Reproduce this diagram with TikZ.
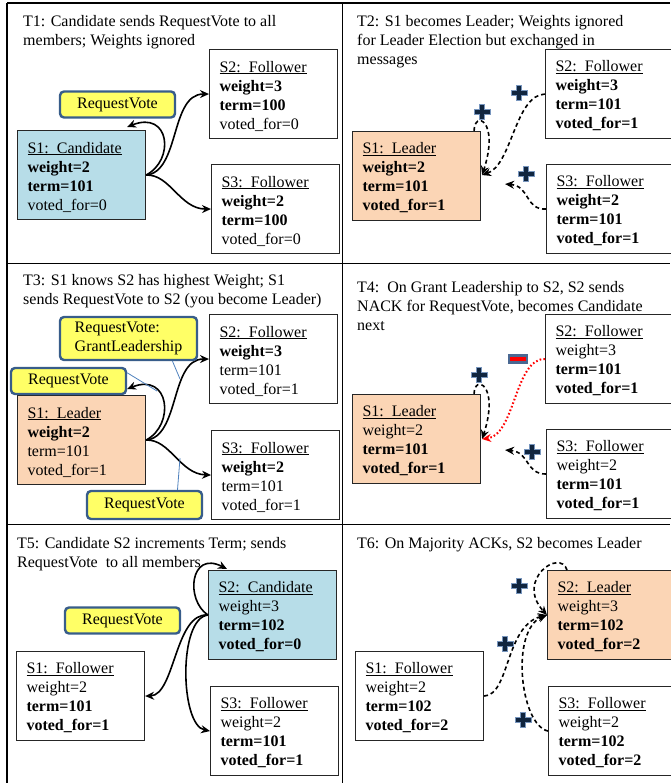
\documentclass[tikz,border=0pt]{standalone}
\usepackage{fontspec}
\setmainfont{Liberation Serif}
\usetikzlibrary{arrows.meta,calc}

\definecolor{candfill}{RGB}{183,221,232}
\definecolor{leadfill}{RGB}{251,213,181}
\definecolor{msgfill}{RGB}{255,255,102}
\definecolor{msgedge}{RGB}{56,93,138}
\definecolor{pointer}{RGB}{79,129,189}
\definecolor{plusfill}{RGB}{16,37,63}
\definecolor{plusedge}{RGB}{120,150,190}
\definecolor{minusedge}{RGB}{74,104,146}
\definecolor{nackred}{RGB}{255,0,0}

% first line of a server box: underlined role, with a strut that sets the text a little lower
\newcommand{\srvhead}[1]{\rule{0pt}{15pt}\underline{#1}}

\tikzset{
  server/.style={draw=black!85, line width=1.1pt, anchor=north west,
    minimum width=128pt, minimum height=89pt, text width=108pt,
    inner xsep=10pt, inner ysep=0pt, align=left,
    font=\fontsize{16}{19}\selectfont},
  title/.style={anchor=north west, inner sep=0pt, align=left,
    font=\fontsize{16}{19}\selectfont},
  msg/.style={draw=msgedge, fill=msgfill, line width=2.4pt, rounded corners=4pt,
    minimum width=115pt, minimum height=26pt, inner sep=0pt,
    font=\fontsize{16}{19}\selectfont},
  sendarrow/.style={-{Stealth[length=9pt,width=8pt]}, line width=1.6pt},
  ackarrow/.style={-{Stealth[length=9pt,width=8pt]}, line width=1.6pt,
    dash pattern=on 4pt off 3pt},
  nackarrow/.style={-{Stealth[length=9pt,width=8pt]}, nackred, line width=2pt,
    dash pattern=on 1.6pt off 2.2pt},
  gridline/.style={line width=1.5pt},
  callout/.style={pointer, line width=0.8pt},
  plusmark/.pic={
    \filldraw[fill=plusfill, draw=plusedge, line width=0.8pt]
      (-8,-2.6) -- (-2.6,-2.6) -- (-2.6,-7.5) -- (2.6,-7.5) -- (2.6,-2.6)
      -- (8,-2.6) -- (8,2.6) -- (2.6,2.6) -- (2.6,7.5) -- (-2.6,7.5)
      -- (-2.6,2.6) -- (-8,2.6) -- cycle;
  },
  minusmark/.pic={
    \filldraw[fill=nackred, draw=minusedge, line width=2.6pt]
      (-9,-3.5) rectangle (9,3.5);
  }
}

\begin{document}
\begin{tikzpicture}[x=1pt, y=-1pt]
\useasboundingbox (0,0) rectangle (670,783);

% table rules
\draw[gridline] (7,3) -- (670,3);
\draw[gridline] (7,3) -- (7,783);
\draw[gridline] (342.5,3) -- (342.5,783);
\draw[gridline] (7,263.5) -- (670,263.5);
\draw[gridline] (7,524.5) -- (670,524.5);

% ---------------- T1 ----------------
\node[title] (t1title) at (23,15) {T1: Candidate sends RequestVote to all\\members; Weights ignored};
\node[server, fill=candfill] (t1s1) at (17,130) {\srvhead{S1: Candidate}\\\textbf{weight=2}\\\textbf{term=101}\\voted\_for=0};
\node[server] (t1s2) at (209,49) {\srvhead{S2: Follower}\\\textbf{weight=3}\\\textbf{term=100}\\voted\_for=0};
\node[server] (t1s3) at (211,164) {\srvhead{S3: Follower}\\\textbf{weight=2}\\\textbf{term=100}\\voted\_for=0};
\node[msg] (t1rv) at (117.5,104.5) {RequestVote};
\coordinate (t1loop) at ($(t1s1.north east)+(-19,-3)$);
\draw[sendarrow] (t1s1.east) .. controls (175,160) and (170,110) .. (t1loop);
\draw[sendarrow] (t1s1.east) .. controls (180,172) and (170,94) .. (t1s2.west);
\draw[sendarrow] (t1s1.east) .. controls (170,174) and (180,209) .. (t1s3.west);

% ---------------- T2 ----------------
\node[title] (t2title) at (357,15) {T2: S1 becomes Leader; Weights ignored\\for Leader Election but exchanged in\\messages};
\node[server, fill=leadfill] (t2s1) at (352,131) {\srvhead{S1: Leader}\\\textbf{weight=2}\\\textbf{term=101}\\\textbf{voted\_for=1}};
\node[server] (t2s2) at (545,49) {\srvhead{S2: Follower}\\\textbf{weight=3}\\\textbf{term=101}\\\textbf{voted\_for=1}};
\node[server] (t2s3) at (546,164) {\srvhead{S3: Follower}\\\textbf{weight=2}\\\textbf{term=101}\\\textbf{voted\_for=1}};
\coordinate (t2in) at ($(t2s1.east)+(1,-1)$);
\coordinate (t2top) at ($(t2s1.north east)+(-7,0)$);
\coordinate (t2near) at ($(t2s1.east)+(24,8)$);
\draw[ackarrow] (t2top) .. controls (474,110) and (500,120) .. (t2in);
\draw[ackarrow] (t2s2.west) .. controls (515,95) and (512,165) .. (t2in);
\draw[ackarrow] (t2s3.west) .. controls (525,210) and (530,186) .. (t2near);
\pic at (482,112) {plusmark};
\pic at (519,93) {plusmark};
\pic at (526,174) {plusmark};

% ---------------- T3 ----------------
\node[title] (t3title) at (23,274) {T3: S1 knows S2 has highest Weight; S1\\sends RequestVote to S2 (you become Leader)};
\node[server, fill=leadfill] (t3s1) at (17,395) {\srvhead{S1: Leader}\\\textbf{weight=2}\\term=101\\voted\_for=1};
\node[server] (t3s2) at (209,314) {\srvhead{S2: Follower}\\\textbf{weight=3}\\term=101\\voted\_for=1};
\node[server] (t3s3) at (211,430) {\srvhead{S3: Follower}\\\textbf{weight=2}\\term=101\\voted\_for=1};
\coordinate (t3loop) at ($(t3s1.north east)+(-19,-6)$);
\draw[sendarrow] (t3s1.east) .. controls (175,425) and (170,372) .. (t3loop);
\draw[sendarrow] (t3s1.east) .. controls (180,437) and (170,359) .. (t3s2.west);
\draw[sendarrow] (t3s1.east) .. controls (170,439) and (180,474) .. (t3s3.west);
\node[msg, minimum width=137pt, minimum height=43pt, align=left] (t3grant) at (128.5,338.5) {RequestVote:\\GrantLeadership};
\node[msg] (t3rv1) at (68.5,381) {RequestVote};
\node[msg, minimum height=28pt] (t3rv2) at (144.5,505) {RequestVote};
\coordinate (t3p1) at (180,379);
\coordinate (t3p2) at (157,391);
\coordinate (t3p3) at (180,458);
\draw[callout] ($(t3grant.south)+(44,0)$) -- (t3p1);
\draw[callout] ($(t3rv1.north east)+(0,6)$) -- (t3p2);
\draw[callout] ($(t3rv2.north)+(33,0)$) -- (t3p3);

% ---------------- T4 ----------------
\node[title] (t4title) at (357,281) {T4:\ \ On Grant Leadership to S2, S2 sends\\NACK for RequestVote, becomes Candidate\\next};
\node[server, fill=leadfill] (t4s1) at (352,394) {\srvhead{S1: Leader}\\weight=2\\\textbf{term=101}\\\textbf{voted\_for=1}};
\node[server] (t4s2) at (545,314) {\srvhead{S2: Follower}\\weight=3\\\textbf{term=101}\\\textbf{voted\_for=1}};
\node[server] (t4s3) at (546,429) {\srvhead{S3: Follower}\\weight=2\\\textbf{term=101}\\\textbf{voted\_for=1}};
\coordinate (t4in) at ($(t4s1.east)+(1,0)$);
\coordinate (t4top) at ($(t4s1.north east)+(-7,0)$);
\coordinate (t4near) at ($(t4s1.east)+(24,11)$);
\draw[ackarrow] (t4top) .. controls (474,374) and (500,384) .. (t4in);
\draw[nackarrow] (t4s2.west) .. controls (515,358) and (515,435) .. (t4in);
\draw[ackarrow] (t4s3.west) .. controls (525,474) and (530,452) .. (t4near);
\pic at (518,359) {minusmark};
\pic at (479,375) {plusmark};
\pic at (532,452) {plusmark};

% ---------------- T5 ----------------
\node[title] (t5title) at (17,537) {T5: Candidate S2 increments Term; sends\\RequestVote\ \ to all members};
\node[server, fill=candfill] (t5s2) at (208,570) {\srvhead{S2: Candidate}\\weight=3\\\textbf{term=102}\\\textbf{voted\_for=0}};
\node[server] (t5s1) at (16,651) {\srvhead{S1: Follower}\\weight=2\\\textbf{term=101}\\\textbf{voted\_for=1}};
\node[server] (t5s3) at (210,686) {\srvhead{S3: Follower}\\weight=2\\\textbf{term=101}\\\textbf{voted\_for=1}};
\node[msg] (t5rv) at (122.5,620.5) {RequestVote};
\coordinate (t5loop) at ($(t5s2.north west)+(19,-1)$);
\draw[sendarrow] (t5s2.west) .. controls (185,600) and (190,550) .. (t5loop);
\draw[sendarrow] (t5s2.west) .. controls (175,612) and (175,695) .. (t5s1.east);
\draw[sendarrow] (t5s2.west) .. controls (178,618) and (180,725) .. (t5s3.west);

% ---------------- T6 ----------------
\node[title] (t6title) at (357,537) {T6: On Majority ACKs, S2 becomes Leader};
\node[server, fill=leadfill] (t6s2) at (547,570) {\srvhead{S2: Leader}\\weight=3\\\textbf{term=102}\\\textbf{voted\_for=2}};
\node[server] (t6s1) at (355,651) {\srvhead{S1: Follower}\\weight=2\\\textbf{term=102}\\\textbf{voted\_for=2}};
\node[server] (t6s3) at (548,686) {\srvhead{S3: Follower}\\weight=2\\\textbf{term=102}\\\textbf{voted\_for=2}};
\coordinate (t6top) at ($(t6s2.north west)+(20,0)$);
\draw[ackarrow] (t6top) .. controls (560,548) and (515,580) .. (t6s2.west);
\draw[ackarrow] (t6s1.east) .. controls (510,695) and (505,625) .. (t6s2.west);
\draw[ackarrow] (t6s3.west) .. controls (520,725) and (510,630) .. (t6s2.west);
\pic at (519,586) {plusmark};
\pic at (505,644) {plusmark};
\pic at (523,720) {plusmark};

\end{tikzpicture}
\end{document}
